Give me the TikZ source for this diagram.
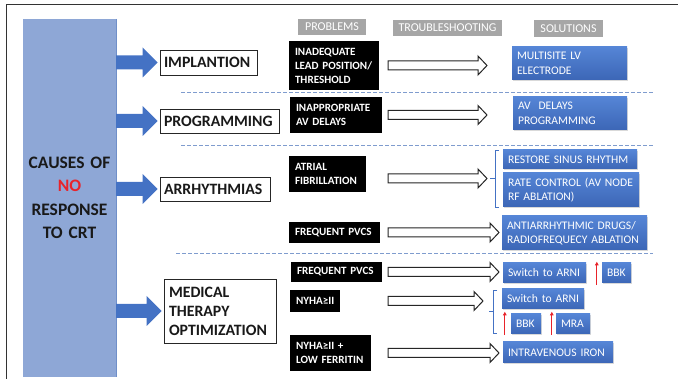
\documentclass[tikz,border=0pt]{standalone}
\usepackage{fontspec}
\setmainfont{Carlito}
\usetikzlibrary{calc,shadows,arrows.meta}
\definecolor{causeblue}{HTML}{8EA7D6}
\definecolor{causeedge}{HTML}{6F8FC9}
\definecolor{arrowblue}{HTML}{4472C4}
\definecolor{soltop}{HTML}{5585D6}
\definecolor{solbot}{HTML}{3C66B6}
\definecolor{dashblue}{HTML}{7F9CCE}
\definecolor{hdrgray}{HTML}{A6A6A6}
\definecolor{noRed}{HTML}{E8232A}
\newcommand\bpad{3}
\newcommand\bx[7][]{%
  \pgfmathsetmacro\bw{#5-#3}\pgfmathsetmacro\bh{#6-#4}%
  \pgfmathsetmacro\bcx{(#3+#5)/2}\pgfmathsetmacro\bcy{(#4+#6)/2}%
  \pgfmathsetmacro\btw{\bw-2*\bpad}%
  \node[#1,inner xsep=\bpad pt,inner ysep=0pt,minimum width=\bw pt,minimum height=\bh pt,text width=\btw pt] (#2) at (\bcx,\bcy) {#7};}
\newcommand\barrow[2]{%
  \fill[arrowblue] ($#1+(0,-7)$) -- ($#2+(-15,-7)$) -- ($#2+(-15,-15)$) -- #2 -- ($#2+(-15,15)$) -- ($#2+(-15,7)$) -- ($#1+(0,7)$) -- cycle;}
\newcommand\harrow[2]{%
  \draw[black!85,line width=1pt,fill=white,line join=miter] ($#1+(0,-4.5)$) -- ($#2+(-9,-4.5)$) -- ($#2+(-9,-9.5)$) -- #2 -- ($#2+(-9,9.5)$) -- ($#2+(-9,4.5)$) -- ($#1+(0,4.5)$) -- cycle;}
\tikzset{
  causebox/.style={fill=causeblue,align=center,text=black!90,font=\fontsize{17.5}{23.5}\selectfont\bfseries},
  catbox/.style={draw=black!85,line width=0.9pt,fill=white,align=left,text=black!90,font=\fontsize{15.8}{19}\selectfont\bfseries},
  probbox/.style={fill=black,align=left,text=white,font=\fontsize{11.1}{14}\selectfont\bfseries},
  solbox/.style={top color=soltop,bottom color=solbot,align=left,text=white,font=\fontsize{11.6}{14.5}\selectfont,
    drop shadow={shadow xshift=1.3pt,shadow yshift=-1.3pt,opacity=0.3}},
  hdrbox/.style={fill=hdrgray,align=center,text=white,font=\fontsize{12}{13}\selectfont},
  sepline/.style={dashblue,line width=0.8pt,dash pattern=on 4pt off 2pt},
  bracketline/.style={arrowblue,line width=0.7pt},
  uparrow/.style={noRed,line width=1.1pt,-{Triangle[length=3.5pt,width=3.5pt]}}
}
\begin{document}
\begin{tikzpicture}[x=1pt,y=-1pt]
\useasboundingbox (0,0) rectangle (678,379);
% frame
\draw[black!80,line width=1.3pt] (678,4.5) -- (6.5,4.5) -- (6.5,379);
% cause
\renewcommand\bpad{3}
\bx[causebox]{cause}{23}{19}{116}{377}{CAUSES OF\\\textcolor{noRed}{NO}\\RESPONSE\\TO CRT}
\draw[causeedge,line width=0.8pt] (cause.north east) -- (cause.south east);
% categories
\renewcommand\bpad{4}
\bx[catbox]{impl}{160}{50}{257}{75}{\mbox{IMPLANTION}}
\bx[catbox]{prog}{160}{109}{279}{133}{\mbox{PROGRAMMING}}
\bx[catbox]{arr}{160}{177}{270}{201}{\mbox{ARRHYTHMIAS}}
\renewcommand\bpad{5}
\bx[catbox]{med}{164}{279}{276}{343}{MEDICAL\\THERAPY\\\mbox{OPTIMIZATION}}
% headers
\renewcommand\bpad{2}
\bx[hdrbox]{h1}{298}{19}{366}{35}{PROBLEMS}
\bx[hdrbox]{h2}{393}{20}{502}{36}{TROUBLESHOOTING}
\bx[hdrbox]{h3}{534}{20}{603}{37}{SOLUTIONS}
% problems
\renewcommand\bpad{6}
\bx[probbox]{p1}{289}{41}{379}{90}{INADEQUATE\\\mbox{LEAD POSITION/}\\THRESHOLD}
\bx[probbox]{p2}{290}{97}{382}{133}{\mbox{INAPPROPRIATE}\\\mbox{AV DELAYS}}
\bx[probbox]{p3}{289}{156}{366}{192}{ATRIAL\\\mbox{FIBRILLATION}}
\bx[probbox]{p4}{289}{222}{380}{243}{\mbox{FREQUENT PVCS}}
\bx[probbox]{p5}{291}{262}{382}{282}{\mbox{FREQUENT PVCS}}
\bx[probbox]{p6}{290}{290}{340}{312}{\mbox{NYHA≥II}}
\bx[probbox]{p7}{290}{335}{371}{371}{\mbox{NYHA≥II +}\\\mbox{LOW FERRITIN}}
% solutions
\renewcommand\bpad{5}
\bx[solbox]{s1}{512}{47}{627}{80}{\mbox{MULTISITE LV}\\ELECTRODE}
\bx[solbox]{s2}{513}{97}{627}{130}{\mbox{AV\ \ DELAYS}\\PROGRAMMING}
\bx[solbox]{s3a}{503}{150}{637}{169}{\mbox{RESTORE SINUS RHYTHM}}
\bx[solbox]{s3b}{503}{173}{639}{207}{\mbox{RATE CONTROL (AV NODE}\\\mbox{RF ABLATION)}}
\bx[solbox]{s4}{502}{216}{647}{250}{\mbox{ANTIARRHYTHMIC DRUGS/}\\\mbox{RADIOFREQUECY ABLATION}}
\bx[solbox]{s5a}{503}{263}{586}{283}{\mbox{Switch to ARNI}}
\bx[solbox]{s5b}{602}{263}{631}{283}{BBK}
\bx[solbox]{s6a}{502}{289}{584}{309}{\mbox{Switch to ARNI}}
\bx[solbox]{s6b}{511}{314}{541}{334}{BBK}
\bx[solbox]{s6c}{556}{314}{590}{334}{MRA}
\bx[solbox]{s7}{503}{342}{613}{363}{\mbox{INTRAVENOUS IRON}}
% separators
\draw[sepline] (181,92) -- (653,92);
\draw[sepline] (181,145) -- (653,145);
\draw[sepline] (176,253) -- (653,253);
% blue block arrows
\barrow{(cause.east |- impl.west)}{([xshift=-2pt]impl.west)}
\barrow{(cause.east |- prog.west)}{([xshift=-2pt]prog.west)}
\barrow{(cause.east |- arr.west)}{([xshift=-2pt]arr.west)}
\barrow{(cause.east |- med.west)}{([xshift=-2pt]med.west)}
% brackets
\coordinate (b3) at (490,178.5);
\draw[bracketline] (499,150) -- (495,150) -- (495,207) -- (499,207);
\draw[bracketline] (b3) -- (495,178.5);
\coordinate (b6) at (489,311.5);
\draw[bracketline] (497,290) -- (493.5,290) -- (493.5,333) -- (497,333);
\draw[bracketline] (b6) -- (493.5,311.5);
% hollow arrows
\coordinate (tsx) at (388,0);
\coordinate (tA) at (487,0);
\coordinate (tB) at (499,0);
\coordinate (tC) at (483,0);
\harrow{(tsx |- p1.east)}{(tA |- p1.east)}
\harrow{(tsx |- p2.east)}{(tA |- p2.east)}
\harrow{(tsx |- b3)}{(tA |- b3)}
\harrow{(tsx |- p4.east)}{(tB |- p4.east)}
\harrow{(tsx |- p5.east)}{(tB |- p5.east)}
\harrow{(tsx |- p6.east)}{(tC |- p6.east)}
\harrow{(tsx |- p7.east)}{(tB |- p7.east)}
% red up arrows
\draw[uparrow] ([xshift=-5pt,yshift=-2pt]s5b.south west) -- ([xshift=-5pt,yshift=1pt]s5b.north west);
\draw[uparrow] ([xshift=-6pt,yshift=-1pt]s6b.south west) -- ([xshift=-6pt,yshift=2pt]s6b.north west);
\draw[uparrow] ([xshift=-4pt,yshift=-1pt]s6c.south west) -- ([xshift=-4pt,yshift=2pt]s6c.north west);
\end{tikzpicture}
\end{document}
